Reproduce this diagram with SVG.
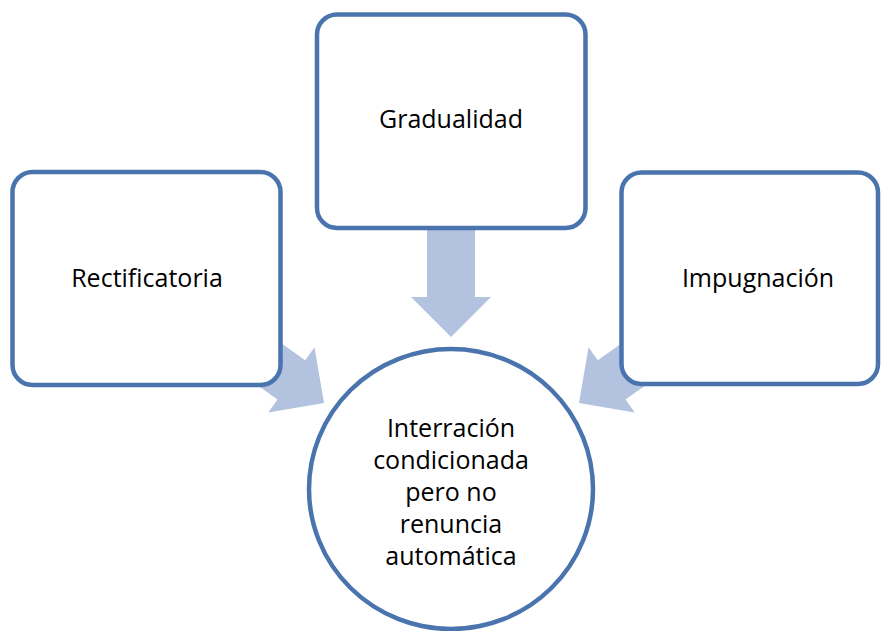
<svg xmlns="http://www.w3.org/2000/svg" width="881" height="631" viewBox="0 0 881 631">
  <defs>
    <style>
      .box { fill: #FFFFFF; stroke: #4A74AD; stroke-width: 4.5; }
      .arrow { fill: #B3C2DE; stroke: none; }
      .label { font-family: "Open Sans", "Noto Sans", "Liberation Sans", sans-serif; font-size: 25px; fill: #000000; text-anchor: middle; }
    </style>
    <polygon id="blockArrow" points="0,0 -40,-40 -40,-24 -120,-24 -120,24 -40,24 -40,40"/>
  </defs>
  <rect width="881" height="631" fill="#FFFFFF"/>
  <g id="connectors">
    <use href="#blockArrow" class="arrow" transform="translate(451,337) rotate(90)"/>
    <use href="#blockArrow" class="arrow" transform="translate(324,403) rotate(35.3)"/>
    <use href="#blockArrow" class="arrow" transform="translate(579,403) rotate(144.7)"/>
  </g>
  <g id="node-gradualidad">
    <rect class="box" x="317" y="14.5" width="268.5" height="213.5" rx="20" ry="20"/>
    <text class="label" x="451" y="128">Gradualidad</text>
  </g>
  <g id="node-rectificatoria">
    <rect class="box" x="12.5" y="172" width="268" height="213" rx="20" ry="20"/>
    <text class="label" x="147" y="287">Rectificatoria</text>
  </g>
  <g id="node-impugnacion">
    <rect class="box" x="621.5" y="172.5" width="256.5" height="211.5" rx="20" ry="20"/>
    <text class="label" x="758" y="287">Impugnación</text>
  </g>
  <g id="node-interraccion">
    <ellipse class="box" cx="451" cy="489" rx="142" ry="140"/>
    <text class="label" x="451" y="437">Interración</text>
    <text class="label" x="451" y="469">condicionada</text>
    <text class="label" x="451" y="501">pero no</text>
    <text class="label" x="451" y="533">renuncia</text>
    <text class="label" x="451" y="565">automática</text>
  </g>
</svg>
